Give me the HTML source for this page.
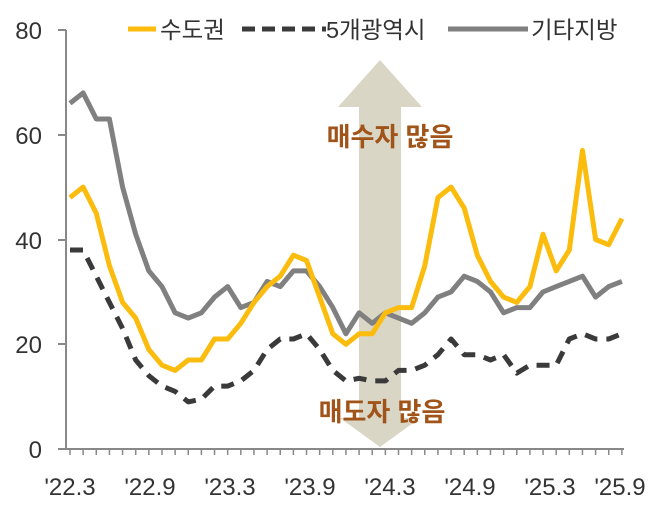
<!DOCTYPE html>
<html><head><meta charset="utf-8"><style>
body{margin:0;background:#fff;}
svg text{font-family:"Liberation Sans","Noto Sans CJK KR",sans-serif;}
</style></head><body>
<svg width="653" height="502" viewBox="0 0 653 502" xmlns="http://www.w3.org/2000/svg">
<polygon points="380,60 422,107 401,107 401,418 420,418 380,447 340,418 359,418 359,107 338,107" fill="#d9d6c6"/>
<g stroke="#888" stroke-width="2" fill="none">
<line x1="66" y1="30" x2="66" y2="450"/>
<line x1="58" y1="449" x2="624" y2="449"/>
<line x1="58" y1="30" x2="66" y2="30"/>
<line x1="58" y1="135" x2="66" y2="135"/>
<line x1="58" y1="240" x2="66" y2="240"/>
<line x1="58" y1="344" x2="66" y2="344"/>
</g>
<line x1="69.25" y1="452" x2="624" y2="452" stroke="#888" stroke-width="6" stroke-dasharray="1.5,11.64"/>
<g font-size="24" fill="#333" text-anchor="end">
<text x="42" y="39">80</text><text x="42" y="144">60</text><text x="42" y="249">40</text><text x="42" y="353">20</text><text x="42" y="458">0</text>
</g>
<g font-size="24" fill="#333" text-anchor="middle">
<text x="70" y="495">'22.3</text><text x="150" y="495">'22.9</text><text x="230" y="495">'23.3</text><text x="310" y="495">'23.9</text><text x="390" y="495">'24.3</text><text x="470" y="495">'24.9</text><text x="550" y="495">'25.3</text><text x="620" y="495">'25.9</text>
</g>
<polyline id="g" fill="none" stroke="#808080" stroke-width="5" stroke-linejoin="round"/>
<polyline id="y" fill="none" stroke="#fbbc0d" stroke-width="5" stroke-linejoin="round"/>
<polyline id="d" fill="none" stroke="#3a3a3a" stroke-width="5" stroke-dasharray="13,9" stroke-linejoin="round"/>
<g font-size="26" font-weight="bold" fill="#a0541a" text-anchor="middle">
<text x="390" y="146">매수자 많음</text>
<text x="382" y="421">매도자 많음</text>
</g>
<line x1="128" y1="29" x2="156" y2="29" stroke="#fbbc0d" stroke-width="5"/>
<line x1="242" y1="29" x2="326" y2="29" stroke="#3a3a3a" stroke-width="5" stroke-dasharray="13,7"/>
<line x1="448" y1="29" x2="528" y2="29" stroke="#808080" stroke-width="5"/>
<g font-size="23.5" fill="#333">
<text x="160" y="38">수도권</text><text x="326" y="38">5개광역시</text><text x="531" y="38">기타지방</text>
</g>
<script>
var G=[66,68,63,63,50,41,34,31,26,25,26,29,31,27,28,32,31,34,34,31,27,22,26,24,26,25,24,26,29,30,33,32,30,26,27,27,30,31,32,33,29,31,32];
var Y=[48,50,45,35,28,25,19,16,15,17,17,21,21,24,28,31,33,37,36,29,22,20,22,22,26,27,27,35,48,50,46,37,32,29,28,31,41,34,38,57,40,39,44];
var D=[38,38,33,28,23,17,14,12,11,9,9.5,12,12,13,15,19,21,21,22,19,15,13,13.5,13,13,15,15,16,18,21,18,18,17,18,14.5,16,16,16,21,22,21,21,22];
function pts(a){return a.map(function(v,i){return (70+i*13.14).toFixed(1)+","+(449-v*5.2375).toFixed(1)}).join(" ");}
document.getElementById("g").setAttribute("points",pts(G));
document.getElementById("y").setAttribute("points",pts(Y));
document.getElementById("d").setAttribute("points",pts(D));
</script>
</svg>
</body></html>
